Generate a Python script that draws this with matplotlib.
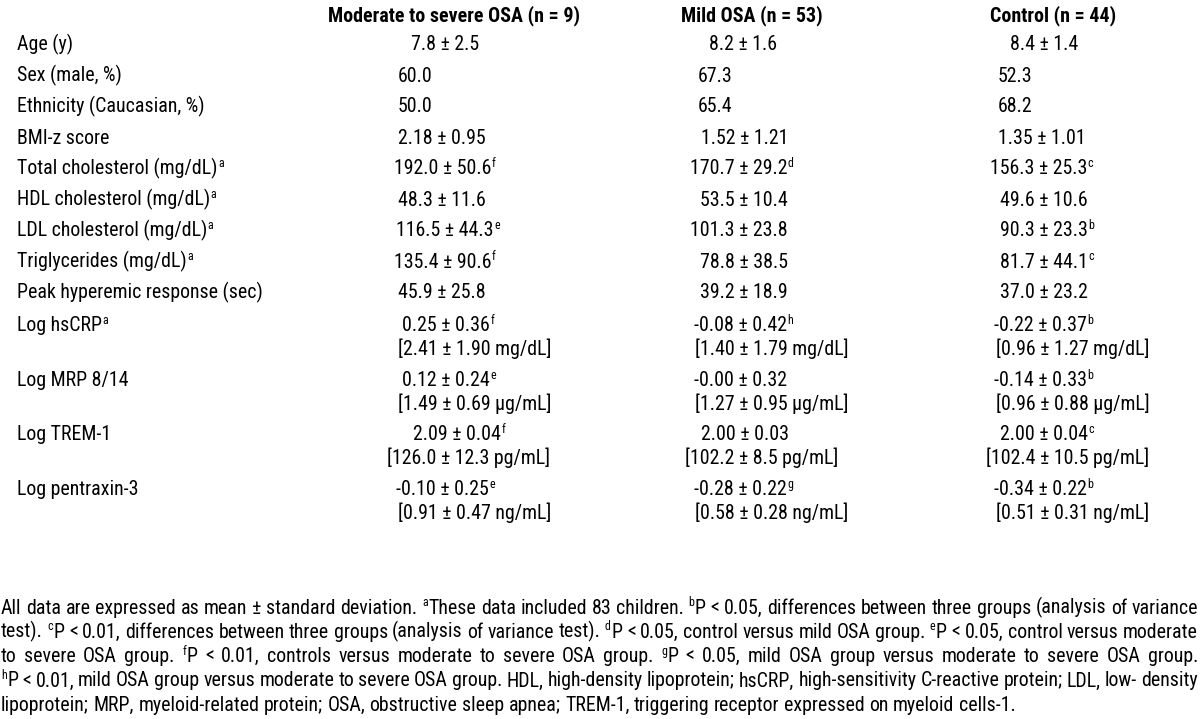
import matplotlib
matplotlib.use("Agg")
import matplotlib.pyplot as plt
from matplotlib import font_manager
from matplotlib.font_manager import FontProperties

# ---------------- data ----------------
groups = ["Moderate to severe OSA (n = 9)", "Mild OSA (n = 53)", "Control (n = 44)"]

variables = ["Age (y)", "Sex (male, %)", "Ethnicity (Caucasian, %)", "BMI-z score",
             "Total cholesterol (mg/dL)", "HDL cholesterol (mg/dL)", "LDL cholesterol (mg/dL)",
             "Triglycerides (mg/dL)", "Peak hyperemic response (sec)",
             "Log hsCRP", "Log MRP 8/14", "Log TREM-1", "Log pentraxin-3"]
variable_notes = ["", "", "", "", "a", "a", "a", "a", "", "a", "", "", ""]

moderate_vals = ["7.8 ± 2.5", "60.0", "50.0", "2.18 ± 0.95", "192.0 ± 50.6", "48.3 ± 11.6",
                 "116.5 ± 44.3", "135.4 ± 90.6", "45.9 ± 25.8", "0.25 ± 0.36", "0.12 ± 0.24",
                 "2.09 ± 0.04", "-0.10 ± 0.25"]
moderate_notes = ["", "", "", "", "f", "", "e", "f", "", "f", "e", "f", "e"]
moderate_raw = ["", "", "", "", "", "", "", "", "",
                "[2.41 ± 1.90 mg/dL]", "[1.49 ± 0.69 µg/mL]", "[126.0 ± 12.3 pg/mL]", "[0.91 ± 0.47 ng/mL]"]

mild_vals = ["8.2 ± 1.6", "67.3", "65.4", "1.52 ± 1.21", "170.7 ± 29.2", "53.5 ± 10.4",
             "101.3 ± 23.8", "78.8 ± 38.5", "39.2 ± 18.9", "-0.08 ± 0.42", "-0.00 ± 0.32",
             "2.00 ± 0.03", "-0.28 ± 0.22"]
mild_notes = ["", "", "", "", "d", "", "", "", "", "h", "", "", "g"]
mild_raw = ["", "", "", "", "", "", "", "", "",
            "[1.40 ± 1.79 mg/dL]", "[1.27 ± 0.95 µg/mL]", "[102.2 ± 8.5 pg/mL]", "[0.58 ± 0.28 ng/mL]"]

control_vals = ["8.4 ± 1.4", "52.3", "68.2", "1.35 ± 1.01", "156.3 ± 25.3", "49.6 ± 10.6",
                "90.3 ± 23.3", "81.7 ± 44.1", "37.0 ± 23.2", "-0.22 ± 0.37", "-0.14 ± 0.33",
                "2.00 ± 0.04", "-0.34 ± 0.22"]
control_notes = ["", "", "", "", "c", "", "b", "c", "", "b", "b", "c", "b"]
control_raw = ["", "", "", "", "", "", "", "", "",
               "[0.96 ± 1.27 mg/dL]", "[0.96 ± 0.88 µg/mL]", "[102.4 ± 10.5 pg/mL]", "[0.51 ± 0.31 ng/mL]"]

footnote_lines = [
    "All data are expressed as mean ± standard deviation. {a}These data included 83 children. {b}P < 0.05, differences between three groups (analysis of variance",
    "test). {c}P < 0.01, differences between three groups (analysis of variance test). {d}P < 0.05, control versus mild OSA group. {e}P < 0.05, control versus moderate",
    "to severe OSA group. {f}P < 0.01, controls versus moderate to severe OSA group. {g}P < 0.05, mild OSA group versus moderate to severe OSA group.",
    "{h}P < 0.01, mild OSA group versus moderate to severe OSA group. HDL, high-density lipoprotein; hsCRP, high-sensitivity C-reactive protein; LDL, low- density",
    "lipoprotein; MRP, myeloid-related protein; OSA, obstructive sleep apnea; TREM-1, triggering receptor expressed on myeloid cells-1.",
]

# ---------------- font selection ----------------
def pick_fonts():
    entries = font_manager.fontManager.ttflist
    prefs = ["Liberation Sans Narrow", "Arial Narrow", "Roboto Condensed",
             "Open Sans Condensed", "Noto Sans Condensed", "DejaVu Sans Condensed"]

    def is_cond(f):
        return ("Narrow" in f.name or "Condensed" in f.name
                or f.stretch in ("condensed", "semi-condensed", 500, 300))

    def find(name_ok, weight_bold):
        best = None
        for f in entries:
            if not name_ok(f) or f.style != "normal":
                continue
            w = f.weight if isinstance(f.weight, int) else (700 if "bold" in str(f.weight) else 400)
            if weight_bold and 600 <= w <= 800:
                best = best or f
            if not weight_bold and 350 <= w <= 450:
                best = best or f
        return best

    for p in prefs:
        r = find(lambda f, p=p: f.name == p, False)
        if r:
            b = find(lambda f, p=p: f.name == p, True)
            return FontProperties(fname=r.fname), FontProperties(fname=(b or r).fname)
    for base in ["Roboto", "Noto Sans", "Open Sans", "DejaVu Sans"]:
        r = find(lambda f, base=base: f.name.startswith(base) and is_cond(f), False)
        if r:
            b = find(lambda f, base=base: f.name.startswith(base) and is_cond(f), True)
            return FontProperties(fname=r.fname), FontProperties(fname=(b or r).fname)
    return (FontProperties(family="Liberation Sans"),
            FontProperties(family="Liberation Sans", weight="bold"))


FP_REG, FP_BOLD = pick_fonts()

# ---------------- layout (pixels) ----------------
header_x = [454, 752, 1053]
header_y = 21
label_x = 17
row_y = [50.5, 81.5, 112.5, 143.5, 174.5, 205.5, 236.5, 267.5, 298.5, 331, 386, 440, 495]
row2_dy = 24
val_x = [
    [411, 709, 1010], [398, 698, 998], [398, 698, 998], [398, 701, 998],
    [394, 690, 990], [398, 700, 1000], [396, 690, 1000], [394, 700, 1000],
    [398, 700, 1000], [402, 694, 994], [402, 694, 994], [413, 701, 1000],
    [396, 694, 994],
]
raw_x = [
    [398, 695, 996], [398, 695, 996], [387, 685, 986], [398, 695, 996],
]
foot_y = [613.5, 637.5, 662, 686.5, 711]
foot_x0, foot_x1 = 1, 1198
CALIB_TEXT, CALIB_W = "[2.41 ± 1.90 mg/dL]", 153.0
CALIB_BOLD, CALIB_BOLD_W = "Moderate to severe OSA (n = 9)", 252.0

fig = plt.figure(figsize=(12, 7.19), dpi=100)
ax = fig.add_axes([0, 0, 1, 1])
ax.set_xlim(0, 1200)
ax.set_ylim(719, 0)
ax.axis("off")
fig.canvas.draw()
renderer = fig.canvas.get_renderer()


def width_of(s, fp, size):
    t = ax.text(0, 0, s, fontproperties=fp, fontsize=size)
    w = t.get_window_extent(renderer).width
    t.remove()
    return w


SIZE = 10.0 * CALIB_W / width_of(CALIB_TEXT, FP_REG, 10.0)
BOLD_SIZE = 10.0 * CALIB_BOLD_W / width_of(CALIB_BOLD, FP_BOLD, 10.0)
SUP_SIZE = SIZE * 0.6
SUP_RISE = SIZE * 100 / 72 * 0.36


def put(x, y, s, fp=FP_REG, size=None, **k):
    return ax.text(x, y, s, fontproperties=fp, fontsize=size or SIZE,
                   va="baseline", color="black", **k)


def put_with_note(x, y, s, note):
    t = put(x, y, s, ha="left")
    if note:
        w = t.get_window_extent(renderer).width
        put(x + w + 0.5, y - SUP_RISE, note, size=SUP_SIZE, ha="left")


for x, g in zip(header_x, groups):
    put(x, header_y, g, fp=FP_BOLD, size=BOLD_SIZE, ha="center")

cols = [(moderate_vals, moderate_notes, moderate_raw),
        (mild_vals, mild_notes, mild_raw),
        (control_vals, control_notes, control_raw)]

for i, (lab, note) in enumerate(zip(variables, variable_notes)):
    y = row_y[i]
    put_with_note(label_x, y, lab, note)
    for c, (vals, notes, raws) in enumerate(cols):
        put_with_note(val_x[i][c], y, vals[i], notes[i])
        if raws[i]:
            put(raw_x[i - 9][c], y + row2_dy, raws[i], ha="left")

# justified footnote
space_w = width_of("x x", FP_REG, SIZE) - width_of("xx", FP_REG, SIZE)

for li, line in enumerate(footnote_lines):
    tokens = []
    for w in line.split(" "):
        if w.startswith("{"):
            n, rest = w[1:].split("}", 1)
        else:
            n, rest = "", w
        nw = width_of(n, FP_REG, SUP_SIZE) + 0.5 if n else 0.0
        tokens.append((n, rest, nw, width_of(rest, FP_REG, SIZE)))
    total = sum(t[2] + t[3] for t in tokens)
    if li < len(footnote_lines) - 1:
        gap = (foot_x1 - foot_x0 - total) / (len(tokens) - 1)
    else:
        gap = space_w
    x = foot_x0
    y = foot_y[li]
    for n, rest, nw, rw in tokens:
        if n:
            put(x, y - SUP_RISE, n, size=SUP_SIZE, ha="left")
        put(x + nw, y, rest, ha="left")
        x += nw + rw + gap

fig.savefig("out.png", dpi=100, facecolor="white")
